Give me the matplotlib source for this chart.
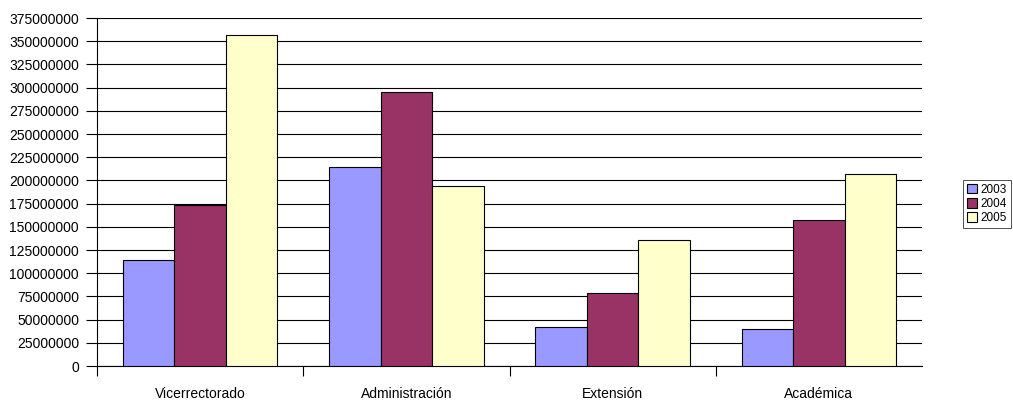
import matplotlib
matplotlib.use("Agg")
import matplotlib.pyplot as plt
import numpy as np

categories = ["Vicerrectorado", "Administración", "Extensión", "Académica"]
years = ["2003", "2004", "2005"]
values_2003 = [114000000, 214000000, 42000000, 39500000]
values_2004 = [173500000, 295000000, 79000000, 157000000]
values_2005 = [357000000, 194000000, 135500000, 206500000]
colors = ["#9999FF", "#993366", "#FFFFCC"]

plt.rcParams["font.family"] = ["Liberation Sans", "DejaVu Sans"]

fig = plt.figure(figsize=(10.13, 4.01), dpi=100)
ax = fig.add_axes([97 / 1013, 1 - 366 / 401, (922 - 97) / 1013, (366 - 18) / 401])

x = np.arange(len(categories))
width = 0.25
series = [values_2003, values_2004, values_2005]
for i, (vals, col, yr) in enumerate(zip(series, colors, years)):
    ax.bar(x + (i - 1) * width, vals, width, color=col, edgecolor="black",
           linewidth=0.8, label=yr, zorder=3)

ax.set_xlim(-0.5, len(categories) - 0.5)
ax.set_ylim(0, 375000000)
ax.set_yticks(np.arange(0, 375000001, 25000000))
ax.set_yticklabels([str(v) for v in range(0, 375000001, 25000000)], fontsize=10)
ax.yaxis.grid(True, color="black", linewidth=0.8, zorder=0)

ax.set_xticks(x)
ax.set_xticklabels(categories, fontsize=10)
# boundary ticks between categories (none at the far right end)
ax.set_xticks(np.arange(-0.5, len(categories) - 1, 1), minor=True)
ax.tick_params(axis="x", which="major", length=0, pad=15)
ax.tick_params(axis="x", which="minor", length=7, width=0.8, color="black")
ax.tick_params(axis="y", length=8, width=0.8, pad=5)

for s in ["top", "right"]:
    ax.spines[s].set_visible(False)
ax.spines["left"].set_linewidth(0.8)
ax.spines["bottom"].set_linewidth(0.8)

leg = fig.legend(loc="upper left", bbox_to_anchor=(963 / 1013, 1 - 180 / 401),
                 fontsize=8.5, frameon=True, fancybox=False, edgecolor="black",
                 handlelength=0.9, handleheight=0.9, handletextpad=0.3,
                 borderpad=0.3, labelspacing=0.2, borderaxespad=0)
leg.get_frame().set_linewidth(0.6)

fig.savefig("out.png", dpi=100)
